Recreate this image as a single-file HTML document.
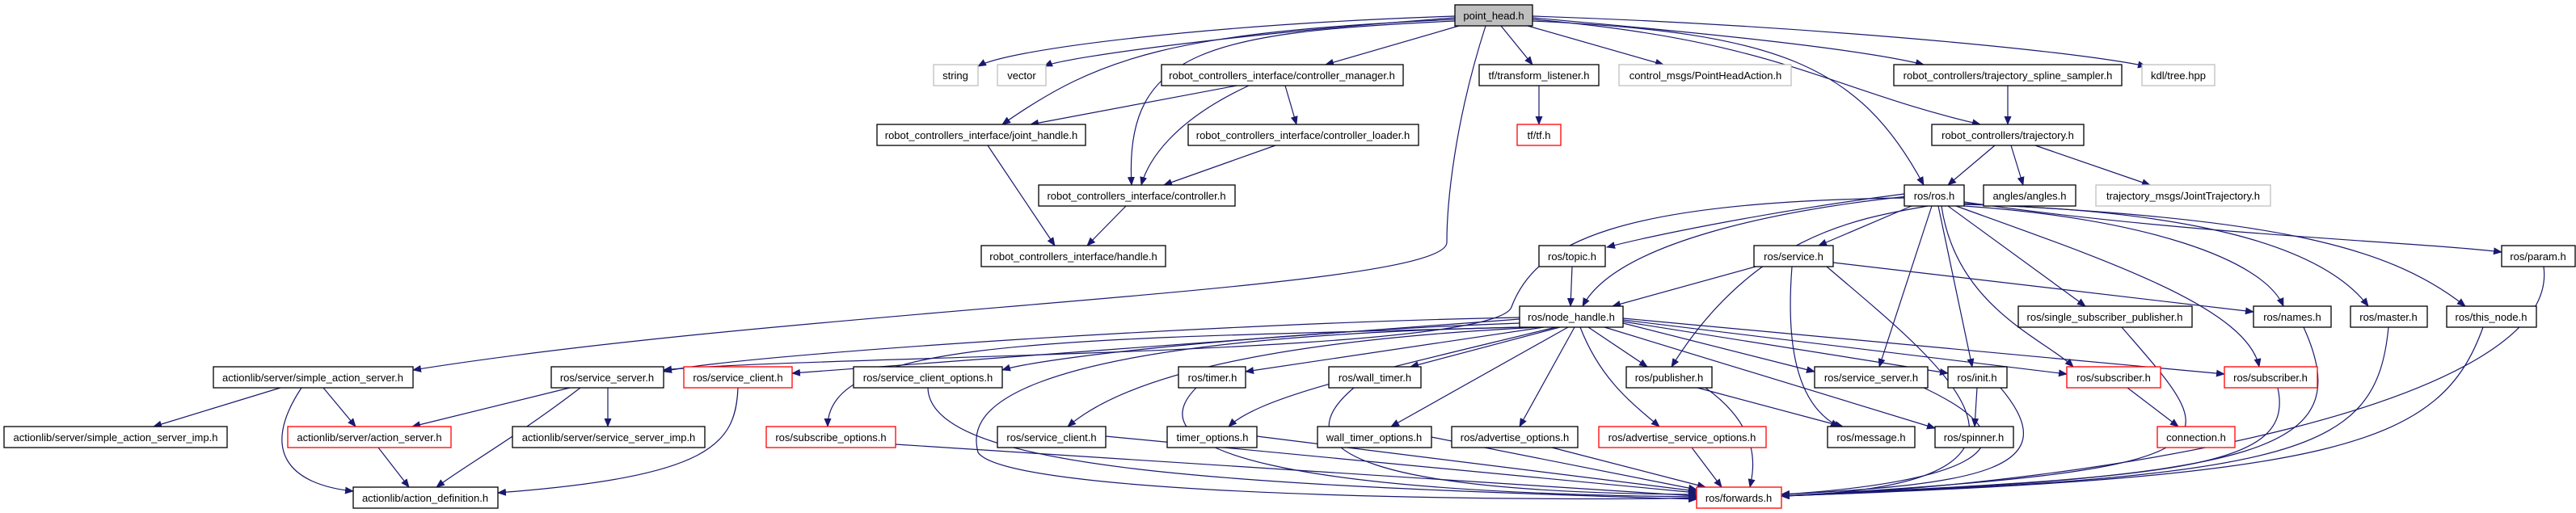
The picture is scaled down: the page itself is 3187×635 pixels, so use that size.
<!DOCTYPE html>
<html><head><meta charset="utf-8"><style>
html,body{margin:0;padding:0;background:#fff;}
svg{display:block;}
text{font-family:"Liberation Sans",sans-serif;font-size:13px;fill:#000;}
.n{fill:#fff;stroke:#000;stroke-width:1.3;}
.g{fill:#fff;stroke:#bfbfbf;stroke-width:1.3;}
.r{fill:#fff;stroke:#ff0000;stroke-width:1.3;}
.e{fill:none;stroke:#191970;stroke-width:1.2;marker-end:url(#a);}
</style></head><body>
<svg width="3187" height="635" viewBox="0 0 3187 635" xmlns="http://www.w3.org/2000/svg">
<defs><marker id="a" markerUnits="userSpaceOnUse" markerWidth="11" markerHeight="9" refX="10" refY="4.5" orient="auto"><path d="M0,0 L11,4.5 L0,9 z" fill="#191970"/></marker></defs>
<g>
<path class="e" d="M1800,20 C1500,30 1250,60 1210,82"/>
<path class="e" d="M1800,22 C1550,40 1320,70 1292,82"/>
<path class="e" d="M1805,32 L1640,80"/>
<path class="e" d="M1800,24 C1450,40 1360,70 1240,154"/>
<path class="e" d="M1800,26 C1500,40 1390,60 1400,229"/>
<path class="e" d="M1857,32 L1896,80"/>
<path class="e" d="M1890,32 L2058,80"/>
<path class="e" d="M1896,22 C2100,40 2300,60 2380,80"/>
<path class="e" d="M1896,20 C2200,30 2550,60 2655,82"/>
<path class="e" d="M1896,24 C2200,50 2260,110 2450,154"/>
<path class="e" d="M1896,26 C2200,40 2300,80 2380,229"/>
<path class="e" d="M1838,32 C1800,150 1790,250 1790,300 C1790,360 1000,380 511,458"/>
<path class="e" d="M1530,106 L1275,154"/>
<path class="e" d="M1545,106 C1450,150 1420,200 1412,229"/>
<path class="e" d="M1590,106 L1604,154"/>
<path class="e" d="M1222,180 L1305,304"/>
<path class="e" d="M1578,180 L1440,229"/>
<path class="e" d="M1393,255 L1345,304"/>
<path class="e" d="M1904,106 L1904,154"/>
<path class="e" d="M2484,106 L2484,154"/>
<path class="e" d="M2468,180 L2410,229"/>
<path class="e" d="M2488,180 L2503,229"/>
<path class="e" d="M2518,180 L2660,229"/>
<path class="e" d="M2356,240 C2200,260 2050,290 1988,306"/>
<path class="e" d="M2360,243 C2200,260 2000,300 1958,379"/>
<path class="e" d="M2365,255 L2250,304"/>
<path class="e" d="M2385,255 C2300,270 2170,290 2068,454"/>
<path class="e" d="M2390,255 L2325,454"/>
<path class="e" d="M2398,255 L2440,454"/>
<path class="e" d="M2402,255 C2420,380 2530,420 2565,454"/>
<path class="e" d="M2410,255 L2580,379"/>
<path class="e" d="M2420,255 C2600,320 2780,380 2795,454"/>
<path class="e" d="M2430,255 C2650,270 2800,320 2825,379"/>
<path class="e" d="M2430,253 C2700,260 2870,300 2930,379"/>
<path class="e" d="M2430,252 C2800,270 2950,300 3050,379"/>
<path class="e" d="M2430,250 C2700,290 3000,300 3095,312"/>
<path class="e" d="M2356,245 C2000,250 1900,300 1870,380 C1850,440 1000,440 821,458"/>
<path class="e" d="M1945,330 L1943,379"/>
<path class="e" d="M2172,330 L1995,379"/>
<path class="e" d="M2268,325 L2788,386"/>
<path class="e" d="M2217,330 C2210,420 2220,500 2275,528"/>
<path class="e" d="M2260,330 C2400,450 2600,600 2204,614"/>
<path class="e" d="M1880,393 C1500,400 900,440 821,460"/>
<path class="e" d="M1880,395 L980,462"/>
<path class="e" d="M1880,400 C1600,410 1300,440 1240,458"/>
<path class="e" d="M1885,405 C1300,420 1024,420 1024,528"/>
<path class="e" d="M1905,405 C1600,420 1400,460 1321,528"/>
<path class="e" d="M1910,405 L1541,460"/>
<path class="e" d="M1925,405 C1700,460 1560,490 1520,528"/>
<path class="e" d="M1930,405 L1745,454"/>
<path class="e" d="M1940,405 L1721,528"/>
<path class="e" d="M1948,405 L1880,528"/>
<path class="e" d="M1955,405 C1980,470 2020,500 2053,528"/>
<path class="e" d="M1965,405 L2038,454"/>
<path class="e" d="M2008,400 L2245,460"/>
<path class="e" d="M2008,398 L2410,462"/>
<path class="e" d="M2008,396 L2557,463"/>
<path class="e" d="M2008,394 L2752,463"/>
<path class="e" d="M1985,405 L2394,530"/>
<path class="e" d="M2100,480 L2280,528"/>
<path class="e" d="M2110,480 C2180,530 2170,580 2165,603"/>
<path class="e" d="M1880,405 C1200,420 1200,520 1210,560 C1250,620 2000,620 2099,616"/>
<path class="e" d="M1368,540 L2099,610"/>
<path class="e" d="M1148,480 C1150,580 1500,600 2099,618"/>
<path class="e" d="M1480,480 C1400,560 1600,610 2099,615"/>
<path class="e" d="M1555,540 L2099,608"/>
<path class="e" d="M1675,480 C1580,560 1700,610 2099,612"/>
<path class="e" d="M1771,541 L2099,606"/>
<path class="e" d="M1920,554 L2110,603"/>
<path class="e" d="M2093,554 L2130,603"/>
<path class="e" d="M1108,550 L2099,614"/>
<path class="e" d="M2380,480 C2550,560 2400,600 2204,612"/>
<path class="e" d="M2475,480 C2560,580 2450,600 2204,612"/>
<path class="e" d="M2818,480 C2840,580 2700,590 2204,614"/>
<path class="e" d="M2625,405 C2750,550 2800,580 2204,614"/>
<path class="e" d="M2850,405 C2920,560 2800,590 2204,614"/>
<path class="e" d="M2955,405 C2940,560 2850,590 2204,614"/>
<path class="e" d="M3072,405 C3020,550 2900,590 2204,614"/>
<path class="e" d="M3147,330 C3170,500 2600,600 2204,614"/>
<path class="e" d="M2446,480 L2443,528"/>
<path class="e" d="M2632,480 L2695,528"/>
<path class="e" d="M347,480 L190,528"/>
<path class="e" d="M400,480 L440,528"/>
<path class="e" d="M373,480 C320,560 360,600 437,608"/>
<path class="e" d="M705,480 L510,528"/>
<path class="e" d="M718,480 C640,540 570,580 540,603"/>
<path class="e" d="M752,480 L752,528"/>
<path class="e" d="M913,480 C910,550 880,590 616,610"/>
<path class="e" d="M468,554 L506,603"/>
</g>
<g>
<rect x="1800" y="6" width="96" height="26" fill="#bfbfbf" stroke="#000" stroke-width="1.3"/><text x="1848" y="24" text-anchor="middle">point_head.h</text>
<rect class="g" x="1155" y="80" width="55" height="26"/><text x="1182" y="98" text-anchor="middle">string</text>
<rect class="g" x="1234" y="80" width="60" height="26"/><text x="1264" y="98" text-anchor="middle">vector</text>
<rect class="n" x="1437" y="80" width="299" height="26"/><text x="1586" y="98" text-anchor="middle">robot_controllers_interface/controller_manager.h</text>
<rect class="n" x="1830" y="80" width="148" height="26"/><text x="1904" y="98" text-anchor="middle">tf/transform_listener.h</text>
<rect class="g" x="2003" y="80" width="213" height="26"/><text x="2110" y="98" text-anchor="middle">control_msgs/PointHeadAction.h</text>
<rect class="n" x="2343" y="80" width="282" height="26"/><text x="2484" y="98" text-anchor="middle">robot_controllers/trajectory_spline_sampler.h</text>
<rect class="g" x="2650" y="80" width="90" height="26"/><text x="2695" y="98" text-anchor="middle">kdl/tree.hpp</text>
<rect class="n" x="1085" y="154" width="258" height="26"/><text x="1214" y="172" text-anchor="middle">robot_controllers_interface/joint_handle.h</text>
<rect class="n" x="1470" y="154" width="285" height="26"/><text x="1612" y="172" text-anchor="middle">robot_controllers_interface/controller_loader.h</text>
<rect class="r" x="1877" y="154" width="54" height="26"/><text x="1904" y="172" text-anchor="middle">tf/tf.h</text>
<rect class="n" x="2390" y="154" width="188" height="26"/><text x="2484" y="172" text-anchor="middle">robot_controllers/trajectory.h</text>
<rect class="n" x="1285" y="229" width="243" height="26"/><text x="1406" y="247" text-anchor="middle">robot_controllers_interface/controller.h</text>
<rect class="n" x="2356" y="229" width="74" height="26"/><text x="2393" y="247" text-anchor="middle">ros/ros.h</text>
<rect class="n" x="2454" y="229" width="114" height="26"/><text x="2511" y="247" text-anchor="middle">angles/angles.h</text>
<rect class="g" x="2593" y="229" width="216" height="26"/><text x="2701" y="247" text-anchor="middle">trajectory_msgs/JointTrajectory.h</text>
<rect class="n" x="1214" y="304" width="228" height="26"/><text x="1328" y="322" text-anchor="middle">robot_controllers_interface/handle.h</text>
<rect class="n" x="1904" y="304" width="82" height="26"/><text x="1945" y="322" text-anchor="middle">ros/topic.h</text>
<rect class="n" x="2170" y="304" width="98" height="26"/><text x="2219" y="322" text-anchor="middle">ros/service.h</text>
<rect class="n" x="3095" y="304" width="91" height="26"/><text x="3140" y="322" text-anchor="middle">ros/param.h</text>
<rect class="n" x="1880" y="379" width="128" height="26"/><text x="1944" y="397" text-anchor="middle">ros/node_handle.h</text>
<rect class="n" x="2497" y="379" width="215" height="26"/><text x="2604" y="397" text-anchor="middle">ros/single_subscriber_publisher.h</text>
<rect class="n" x="2788" y="379" width="96" height="26"/><text x="2836" y="397" text-anchor="middle">ros/names.h</text>
<rect class="n" x="2908" y="379" width="95" height="26"/><text x="2955" y="397" text-anchor="middle">ros/master.h</text>
<rect class="n" x="3027" y="379" width="111" height="26"/><text x="3082" y="397" text-anchor="middle">ros/this_node.h</text>
<rect class="n" x="264" y="454" width="247" height="26"/><text x="387" y="472" text-anchor="middle">actionlib/server/simple_action_server.h</text>
<rect class="n" x="682" y="454" width="139" height="26"/><text x="751" y="472" text-anchor="middle">ros/service_server.h</text>
<rect class="r" x="846" y="454" width="134" height="26"/><text x="913" y="472" text-anchor="middle">ros/service_client.h</text>
<rect class="n" x="1056" y="454" width="184" height="26"/><text x="1148" y="472" text-anchor="middle">ros/service_client_options.h</text>
<rect class="n" x="1458" y="454" width="83" height="26"/><text x="1500" y="472" text-anchor="middle">ros/timer.h</text>
<rect class="n" x="1644" y="454" width="114" height="26"/><text x="1701" y="472" text-anchor="middle">ros/wall_timer.h</text>
<rect class="n" x="2012" y="454" width="106" height="26"/><text x="2065" y="472" text-anchor="middle">ros/publisher.h</text>
<rect class="n" x="2245" y="454" width="140" height="26"/><text x="2315" y="472" text-anchor="middle">ros/service_server.h</text>
<rect class="n" x="2410" y="454" width="73" height="26"/><text x="2446" y="472" text-anchor="middle">ros/init.h</text>
<rect class="r" x="2557" y="454" width="116" height="26"/><text x="2615" y="472" text-anchor="middle">ros/subscriber.h</text>
<rect class="r" x="2752" y="454" width="115" height="26"/><text x="2809" y="472" text-anchor="middle">ros/subscriber.h</text>
<rect class="n" x="5" y="528" width="276" height="26"/><text x="143" y="546" text-anchor="middle">actionlib/server/simple_action_server_imp.h</text>
<rect class="r" x="356" y="528" width="202" height="26"/><text x="457" y="546" text-anchor="middle">actionlib/server/action_server.h</text>
<rect class="n" x="634" y="528" width="238" height="26"/><text x="753" y="546" text-anchor="middle">actionlib/server/service_server_imp.h</text>
<rect class="r" x="948" y="528" width="160" height="26"/><text x="1028" y="546" text-anchor="middle">ros/subscribe_options.h</text>
<rect class="n" x="1234" y="528" width="134" height="26"/><text x="1301" y="546" text-anchor="middle">ros/service_client.h</text>
<rect class="n" x="1444" y="528" width="111" height="26"/><text x="1500" y="546" text-anchor="middle">timer_options.h</text>
<rect class="n" x="1630" y="528" width="141" height="26"/><text x="1700" y="546" text-anchor="middle">wall_timer_options.h</text>
<rect class="n" x="1796" y="528" width="156" height="26"/><text x="1874" y="546" text-anchor="middle">ros/advertise_options.h</text>
<rect class="r" x="1978" y="528" width="207" height="26"/><text x="2081" y="546" text-anchor="middle">ros/advertise_service_options.h</text>
<rect class="n" x="2261" y="528" width="108" height="26"/><text x="2315" y="546" text-anchor="middle">ros/message.h</text>
<rect class="n" x="2394" y="528" width="97" height="26"/><text x="2442" y="546" text-anchor="middle">ros/spinner.h</text>
<rect class="r" x="2669" y="528" width="96" height="26"/><text x="2717" y="546" text-anchor="middle">connection.h</text>
<rect class="n" x="437" y="603" width="179" height="26"/><text x="526" y="621" text-anchor="middle">actionlib/action_definition.h</text>
<rect class="r" x="2099" y="603" width="105" height="26"/><text x="2151" y="621" text-anchor="middle">ros/forwards.h</text>
</g>
</svg>
</body></html>
